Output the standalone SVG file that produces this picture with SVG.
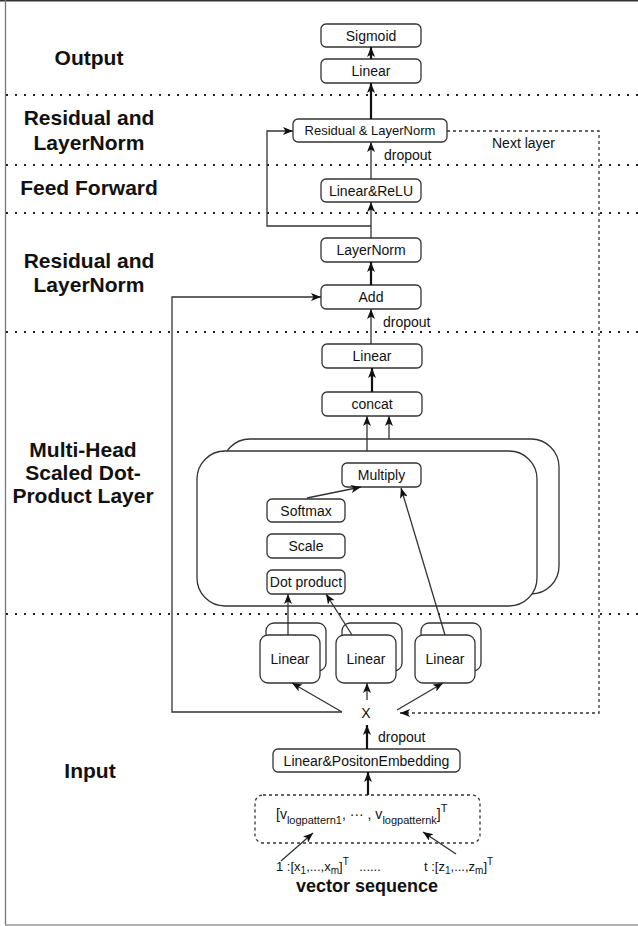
<svg xmlns="http://www.w3.org/2000/svg" width="638" height="926" viewBox="0 0 638 926">
  <style>
    .node { fill: #fff; stroke: #333; stroke-width: 1.3; }
    .txt { font-family: "Liberation Sans", Arial, sans-serif; font-size: 14px; fill: #111; text-anchor: middle; }
    .lbl { font-family: "Liberation Sans", Arial, sans-serif; font-size: 14px; fill: #111; }
    .seq { font-family: "Liberation Sans", Arial, sans-serif; font-size: 13px; fill: #111; }
    .sec { font-family: "Liberation Sans", Arial, sans-serif; font-size: 21px; font-weight: bold; fill: #111; text-anchor: middle; }
    .dots { stroke: #222; stroke-width: 2; stroke-dasharray: 2 7; fill: none; }
    .c { stroke: #333; stroke-width: 1.3; fill: none; }
    .thick { stroke: #111; stroke-width: 2.2; fill: none; }
    .dash { stroke: #333; stroke-width: 1.3; stroke-dasharray: 3 3; fill: none; }
  </style>
  <defs>
    <marker id="arrow" markerUnits="userSpaceOnUse" markerWidth="10" markerHeight="8" refX="10" refY="4" orient="auto">
      <path d="M0,0 L10,4 L0,8 L2.5,4 z" fill="#111"/>
    </marker>
  </defs>

  <rect width="638" height="926" fill="#fff"/>

  <!-- frame -->
  <g id="frame">
    <line x1="0" y1="0.7" x2="638" y2="0.7" stroke="#333" stroke-width="1.5"/>
    <line x1="5.5" y1="0" x2="5.5" y2="925" stroke="#777" stroke-width="1.3"/>
    <line x1="5" y1="925" x2="638" y2="925" stroke="#999" stroke-width="1.3"/>
  </g>

  <!-- section separators -->
  <g id="separators">
    <line class="dots" x1="6" y1="95" x2="638" y2="95"/>
    <line class="dots" x1="6" y1="165" x2="638" y2="165"/>
    <line class="dots" x1="6" y1="213" x2="638" y2="213"/>
    <line class="dots" x1="6" y1="332" x2="638" y2="332"/>
    <line class="dots" x1="6" y1="614" x2="638" y2="614"/>
  </g>

  <!-- section titles -->
  <g id="section-labels">
    <text class="sec" x="89" y="65">Output</text>
    <text class="sec" x="89" y="125">Residual and</text>
    <text class="sec" x="89" y="150">LayerNorm</text>
    <text class="sec" x="89" y="195">Feed Forward</text>
    <text class="sec" x="89" y="268">Residual and</text>
    <text class="sec" x="89" y="292">LayerNorm</text>
    <text class="sec" x="83" y="457">Multi-Head</text>
    <text class="sec" x="83" y="480">Scaled Dot-</text>
    <text class="sec" x="83" y="503">Product Layer</text>
    <text class="sec" x="90" y="778">Input</text>
  </g>

  <g id="sigmoid">
    <rect class="node" x="321" y="24" width="100" height="23" rx="5"/>
    <text class="txt" x="371" y="40.5">Sigmoid</text>
  </g>
  <g id="linear-out">
    <rect class="node" x="321" y="59" width="100" height="24" rx="5"/>
    <text class="txt" x="371" y="76">Linear</text>
  </g>
  <g id="residual-layernorm">
    <rect class="node" x="293" y="119" width="154" height="23" rx="5"/>
    <text class="txt" x="370" y="135" style="font-size:13px">Residual &amp; LayerNorm</text>
  </g>
  <g id="linear-relu">
    <rect class="node" x="321" y="179" width="100" height="23" rx="5"/>
    <text class="txt" x="371" y="195.5">Linear&amp;ReLU</text>
  </g>
  <g id="layernorm">
    <rect class="node" x="321" y="238" width="100" height="24" rx="5"/>
    <text class="txt" x="371" y="255">LayerNorm</text>
  </g>
  <g id="add">
    <rect class="node" x="321" y="285" width="100" height="24" rx="5"/>
    <text class="txt" x="371" y="302">Add</text>
  </g>
  <g id="linear-proj">
    <rect class="node" x="322" y="344" width="100" height="24" rx="5"/>
    <text class="txt" x="372" y="361">Linear</text>
  </g>
  <g id="concat">
    <rect class="node" x="322" y="392" width="100" height="24" rx="5"/>
    <text class="txt" x="372" y="409">concat</text>
  </g>

  <!-- stacked attention heads -->
  <g id="attention-heads">
    <rect class="node" x="222" y="439" width="337" height="155" rx="28"/>
    <rect class="node" x="197" y="451" width="340" height="155" rx="28"/>
  </g>
  <g id="multiply">
    <rect class="node" x="342" y="463" width="79" height="24" rx="5"/>
    <text class="txt" x="381.5" y="480">Multiply</text>
  </g>
  <g id="softmax">
    <rect class="node" x="267" y="499" width="78" height="23" rx="5"/>
    <text class="txt" x="306" y="515.5">Softmax</text>
  </g>
  <g id="scale">
    <rect class="node" x="267" y="534" width="78" height="24" rx="5"/>
    <text class="txt" x="306" y="551">Scale</text>
  </g>
  <g id="dot-product">
    <rect class="node" x="267" y="570" width="78" height="24" rx="5"/>
    <text class="txt" x="306" y="587">Dot product</text>
  </g>

  <!-- Q, K, V projections -->
  <g id="linear-q">
    <rect class="node" x="266" y="623" width="60" height="48" rx="8"/>
    <rect class="node" x="260" y="635" width="60" height="48" rx="8"/>
    <text class="txt" x="290" y="664">Linear</text>
  </g>
  <g id="linear-k">
    <rect class="node" x="342" y="623" width="60" height="48" rx="8"/>
    <rect class="node" x="336" y="635" width="60" height="48" rx="8"/>
    <text class="txt" x="366" y="664">Linear</text>
  </g>
  <g id="linear-v">
    <rect class="node" x="421" y="623" width="60" height="48" rx="8"/>
    <rect class="node" x="415" y="635" width="60" height="48" rx="8"/>
    <text class="txt" x="445" y="664">Linear</text>
  </g>

  <g id="x">
    <text class="txt" x="366" y="718">X</text>
  </g>
  <g id="linear-position-embedding">
    <rect class="node" x="273" y="749" width="187" height="23" rx="5"/>
    <text class="txt" x="366.5" y="765.5">Linear&amp;PositonEmbedding</text>
  </g>
  <g id="pattern-vector">
    <rect x="255" y="795" width="225" height="48" rx="8" fill="none" stroke="#333" stroke-width="1.3" stroke-dasharray="3 3"/>
    <text class="lbl" x="276" y="819">[v<tspan font-size="11" dy="5">logpattern1</tspan><tspan dy="-5">, ··· , v</tspan><tspan font-size="11" dy="5">logpatternk</tspan><tspan dy="-5">]</tspan><tspan font-size="11" dy="-7">T</tspan></text>
  </g>
  <g id="sequence">
    <text class="seq" x="276" y="871">1 :[x<tspan font-size="10" dy="3">1</tspan><tspan dy="-3">,...,x</tspan><tspan font-size="10" dy="3">m</tspan><tspan dy="-3">]</tspan><tspan font-size="10" dy="-6">T</tspan></text>
    <text class="seq" x="370" y="871" text-anchor="middle">......</text>
    <text class="seq" x="424" y="871">t :[z<tspan font-size="10" dy="3">1</tspan><tspan dy="-3">,...,z</tspan><tspan font-size="10" dy="3">m</tspan><tspan dy="-3">]</tspan><tspan font-size="10" dy="-6">T</tspan></text>
    <text class="sec" x="367" y="892" style="font-size:18px">vector sequence</text>
  </g>

  <!-- connectors -->
  <g id="connectors">
    <line class="thick" x1="371" y1="59" x2="371" y2="47" marker-end="url(#arrow)"/>
    <line class="thick" x1="371" y1="119" x2="371" y2="83" marker-end="url(#arrow)"/>
    <line class="c" x1="371" y1="179" x2="371" y2="142" marker-end="url(#arrow)"/>
    <line class="c" x1="371" y1="238" x2="371" y2="202" marker-end="url(#arrow)"/>
    <polyline class="c" points="371,226 267,226 267,131 293,131" marker-end="url(#arrow)"/>
    <line class="thick" x1="371" y1="285" x2="371" y2="262" marker-end="url(#arrow)"/>
    <line class="c" x1="371" y1="344" x2="371" y2="309" marker-end="url(#arrow)"/>
    <line class="thick" x1="372" y1="392" x2="372" y2="368" marker-end="url(#arrow)"/>
    <line class="c" x1="367" y1="451" x2="367" y2="416" marker-end="url(#arrow)"/>
    <line class="c" x1="389" y1="439" x2="389" y2="416" marker-end="url(#arrow)"/>
    <line class="c" x1="307" y1="498" x2="361" y2="487" marker-end="url(#arrow)"/>
    <line class="c" x1="445" y1="635" x2="401" y2="488" marker-end="url(#arrow)"/>
    <line class="c" x1="288" y1="635" x2="288" y2="594" marker-end="url(#arrow)"/>
    <line class="c" x1="352" y1="635" x2="326" y2="594" marker-end="url(#arrow)"/>
    <polyline class="c" points="342,712 172,712 172,297 321,297" marker-end="url(#arrow)"/>
    <line class="c" x1="342" y1="712" x2="292" y2="683" marker-end="url(#arrow)"/>
    <line class="c" x1="367" y1="700" x2="367" y2="683" marker-end="url(#arrow)"/>
    <line class="c" x1="397" y1="710" x2="443" y2="683" marker-end="url(#arrow)"/>
    <polyline class="dash" points="447,131 599,131 599,713 400,713"/>
    <path d="M410,709 L400,713 L410,717 L407.5,713 z" fill="#111"/>
    <line class="thick" x1="367" y1="749" x2="367" y2="725" marker-end="url(#arrow)"/>
    <line class="thick" x1="368" y1="795" x2="368" y2="772" marker-end="url(#arrow)"/>
    <line class="c" x1="281" y1="861" x2="313" y2="833" marker-end="url(#arrow)"/>
    <line class="c" x1="456" y1="854" x2="423" y2="832" marker-end="url(#arrow)"/>
    <text class="lbl" x="384" y="160">dropout</text>
    <text class="lbl" x="383" y="327">dropout</text>
    <text class="lbl" x="378" y="742">dropout</text>
    <text class="lbl" x="492" y="148">Next layer</text>
  </g>
</svg>
